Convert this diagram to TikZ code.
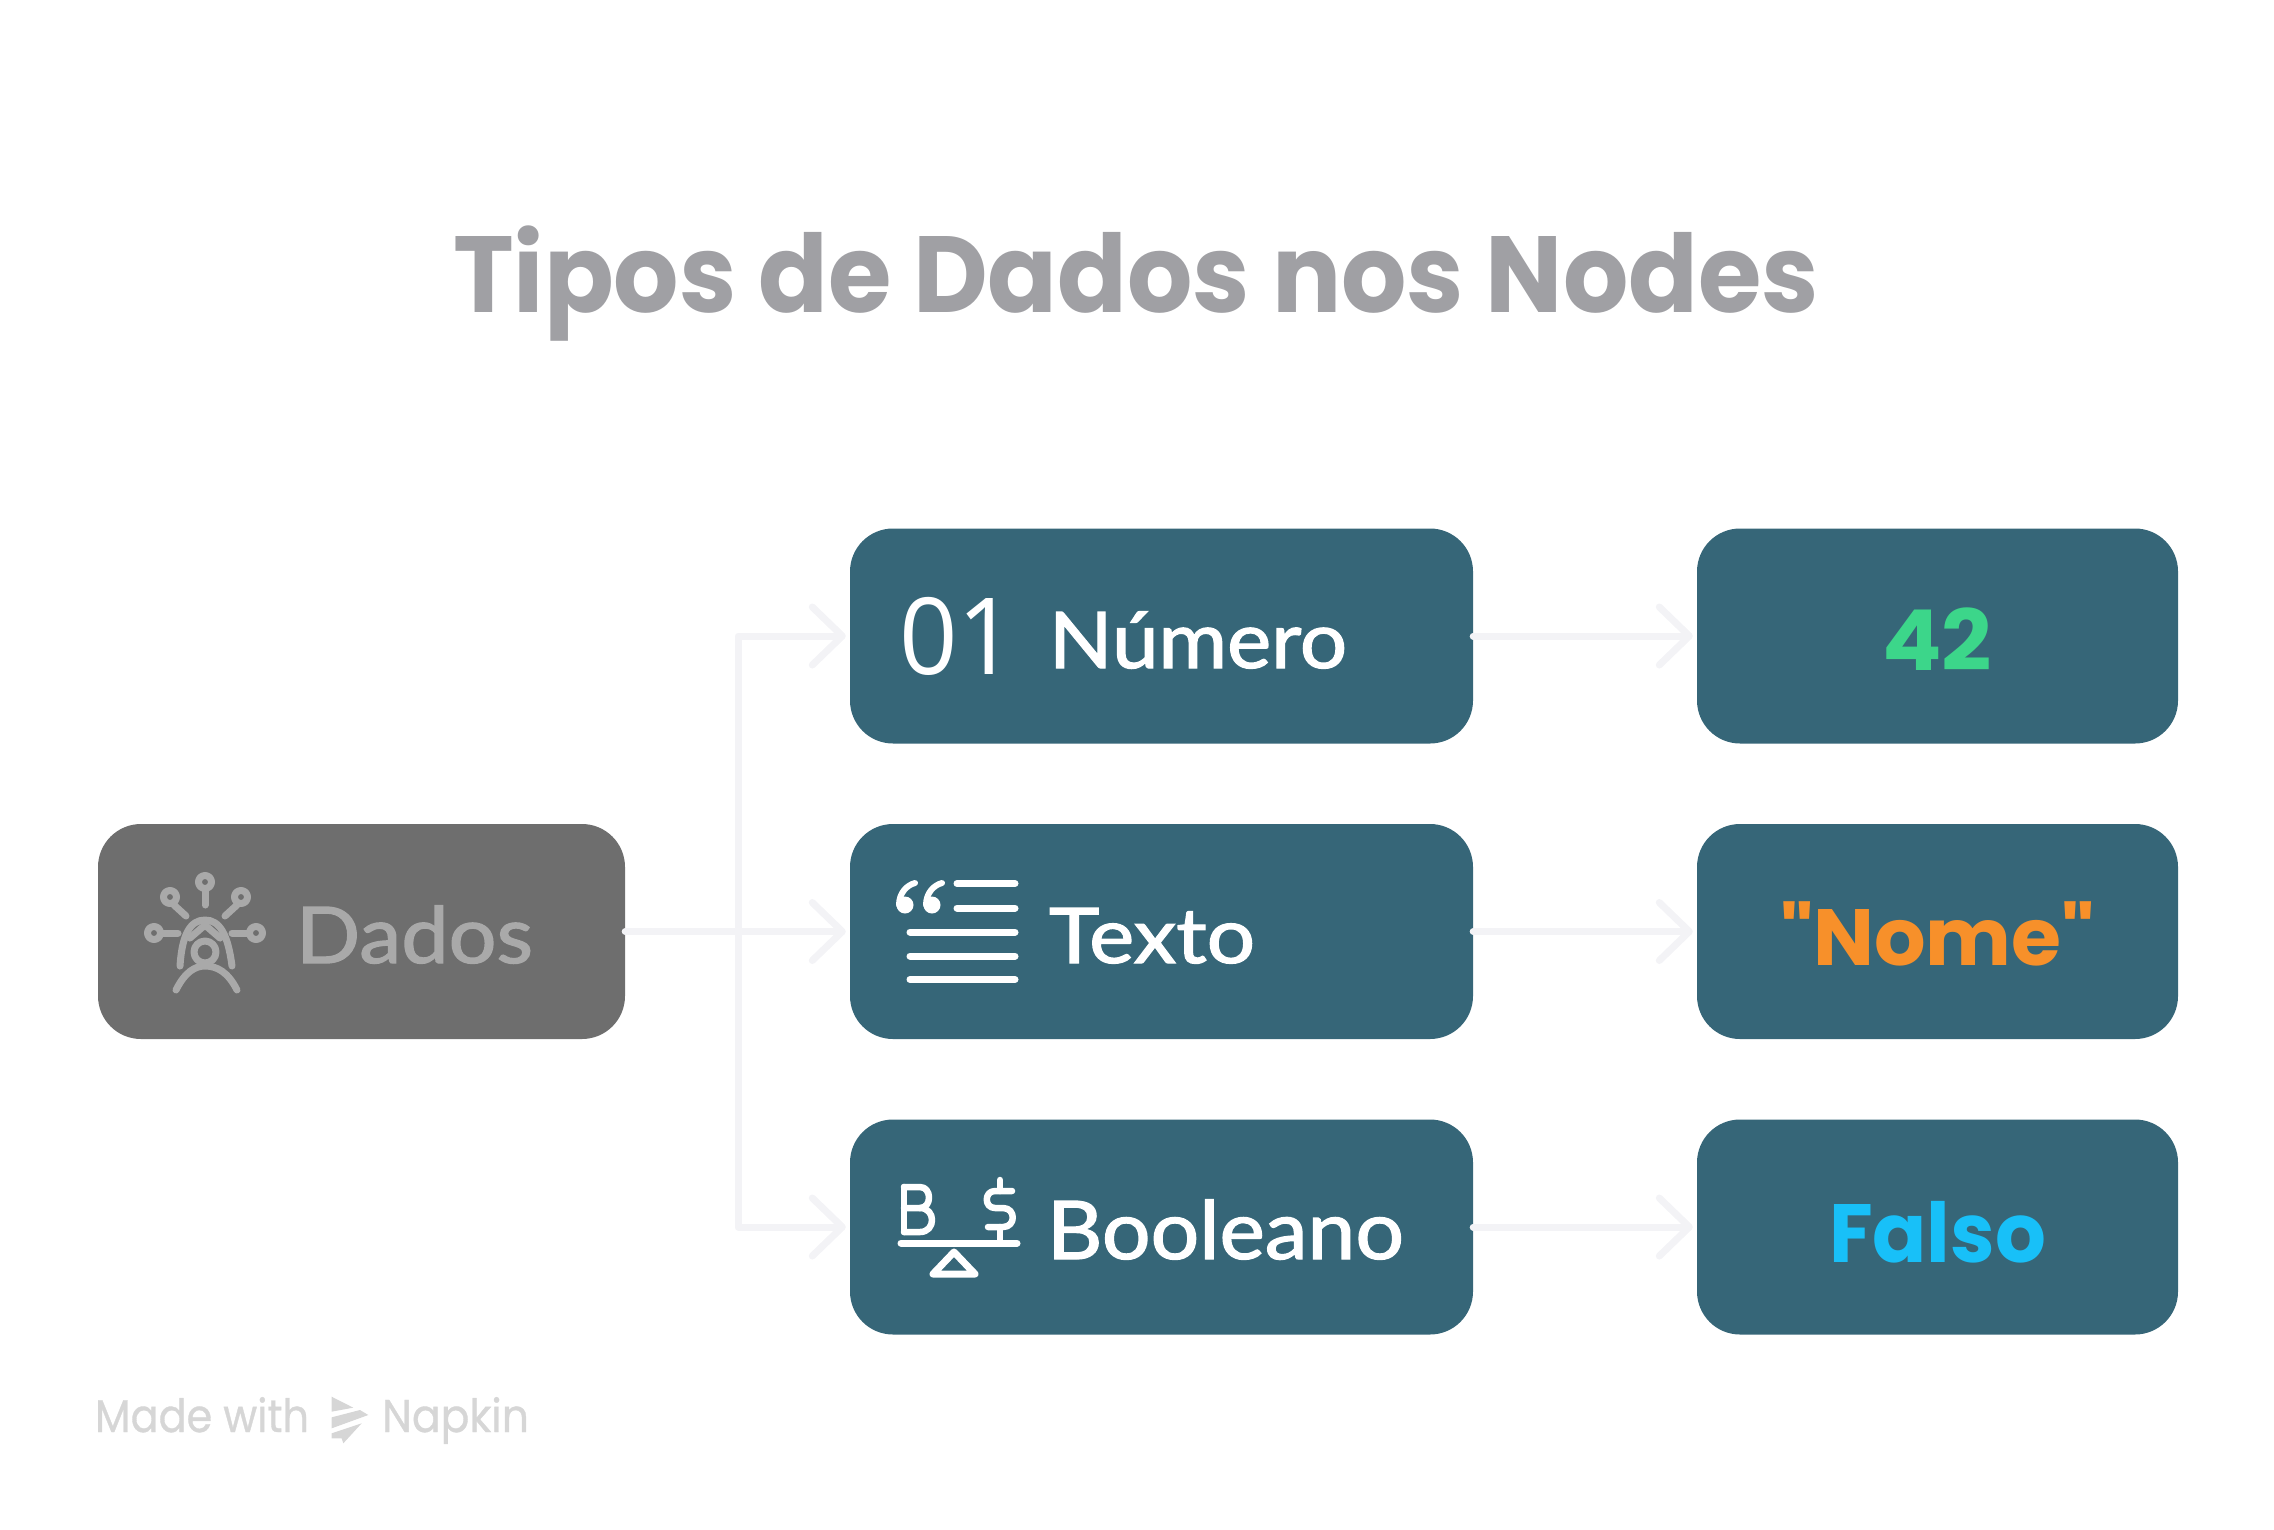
\documentclass[tikz,border=0pt]{standalone}
\usepackage{fontspec}
\usepackage{graphicx}
\usetikzlibrary{arrows.meta}
\setmainfont{Lato}
\newfontfamily\lblfont[FakeBold=1.6]{Lato}
\newfontfamily\thinfont{Open Sans}
\newfontfamily\fatfont{Poppins}
\newfontfamily\footfont[FakeBold=0.8]{Poppins}
\definecolor{boxteal}{HTML}{366678}
\definecolor{boxgrey}{HTML}{6E6E6E}
\definecolor{greytxt}{HTML}{A9A9A9}
\definecolor{titlegrey}{HTML}{A0A0A4}
\definecolor{linkpale}{HTML}{F3F3F6}
\definecolor{footgrey}{HTML}{D6D6D6}
\definecolor{valgreen}{HTML}{3CD68A}
\definecolor{valorange}{HTML}{F7902A}
\definecolor{valblue}{HTML}{18C0F8}
\newlength\fitw
\newlength\fith
% width, cap height, font, text
\newcommand\fittext[4]{%
  \settowidth\fitw{#3\fontsize{100}{100}\selectfont #4}%
  \settoheight\fith{#3\fontsize{100}{100}\selectfont H}%
  \pgfmathsetmacro\fitsx{#1/\fitw}%
  \pgfmathsetmacro\fitsy{#2/\fith}%
  \scalebox{\fitsx}[\fitsy]{#3\fontsize{100}{100}\selectfont #4}}
\tikzset{
  x=1pt,y=-1pt,
  midbox/.style={fill=boxteal,rounded corners=43pt,minimum width=623pt,minimum height=215pt,inner sep=0pt},
  valbox/.style={fill=boxteal,rounded corners=43pt,minimum width=481pt,minimum height=215pt,inner sep=0pt},
  srcbox/.style={fill=boxgrey,rounded corners=43pt,minimum width=527pt,minimum height=215pt,inner sep=0pt},
  lab/.style={anchor=base west,inner sep=0pt,outer sep=0pt},
  link/.style={draw=linkpale,line width=7pt,line cap=round,line join=round},
  linktip/.style={link,-{Straight Barb[length=30pt,width=58pt,line width=7pt,round]},shorten >=4pt},
  iconw/.style={draw=white,line width=7pt,line cap=round,line join=round},
  icong/.style={draw=greytxt,line width=7pt,line cap=round,line join=round},
}
\begin{document}
\begin{tikzpicture}
\useasboundingbox (0,0) rectangle (2274,1529);
% boxes
\node[srcbox] (dados) at (361.5,931.5) {};
\node[midbox] (num) at (1161.5,636) {};
\node[midbox] (txt) at (1161.5,931.5) {};
\node[midbox] (bool) at (1161.5,1227) {};
\node[valbox] (v42) at (1937.5,636) {};
\node[valbox] (vnome) at (1937.5,931.5) {};
\node[valbox] (vfalso) at (1937.5,1227) {};
\coordinate (bus) at (738,931.5);
% connectors
\draw[linktip] (dados.east) -- (txt.west);
\draw[linktip] (bus) |- (num.west);
\draw[linktip] (bus) |- (bool.west);
\draw[linktip] (num.east) -- (v42.west);
\draw[linktip] (txt.east) -- (vnome.west);
\draw[linktip] (bool.east) -- (vfalso.west);
% title
\node[lab,text=titlegrey] (title) at (453,312) {\fittext{1366}{76}{\fatfont\bfseries}{Tipos de Dados nos Nodes}};
% labels
\node[lab,text=greytxt] (ldados) at (296,963) {\fittext{237}{56}{\lblfont}{Dados}};
\node[lab,text=white] (l01) at (899,674) {\fittext{117}{76}{\thinfont}{01}};
\node[lab,text=white] (lnum) at (1049,668) {\fittext{298}{56}{\lblfont}{Número}};
\node[lab,text=white] (ltxt) at (1049,963) {\fittext{206}{55}{\lblfont}{Texto}};
\node[lab,text=white] (lbool) at (1047,1259) {\fittext{357}{58}{\lblfont}{Booleano}};
\node[lab,text=valgreen] (t42) at (1882,670) {\fittext{110}{59}{\fatfont\bfseries}{42}};
\node[lab,text=valorange] (tnome) at (1780,965) {\fittext{315}{56}{\fatfont\bfseries}{"Nome"}};
\node[lab,text=valblue] (tfalso) at (1829,1262) {\fittext{217}{58}{\fatfont\bfseries}{Falso}};
\node[lab,text=footgrey] (fmade) at (95,1432) {\fittext{214}{32}{\footfont}{Made with}};
\node[lab,text=footgrey] (fnap) at (382,1432) {\fittext{147}{32}{\footfont}{Napkin}};
% Napkin logo
\begin{scope}[shift={(60,1360)},x=.3333pt,y=-.3333pt]
\fill[footgrey] (815,110) -- (880,143) -- (815,155) -- cycle;
\fill[footgrey] (815,172) -- (900,150) -- (925,165) -- (815,205) -- cycle;
\fill[footgrey] (815,220) -- (905,190) -- (850,250) -- (845,235) -- (815,235) -- cycle;
\end{scope}
% Dados icon
\draw[icong] (205,882) circle (6.5);
\draw[icong] (205,890) -- (205,905);
\draw[icong] (170,897) circle (6.5);
\draw[icong] (174,905) -- (186,916);
\draw[icong] (241,897) circle (6.5);
\draw[icong] (237,905) -- (225,916);
\draw[icong] (154,933) circle (6.5);
\draw[icong] (162,933) -- (178,933);
\draw[icong] (256,933) circle (6.5);
\draw[icong] (248,933) -- (232,933);
\draw[icong] (180,966) .. controls (182,935) and (190,920) .. (205,920) .. controls (220,920) and (228,935) .. (232,966);
\draw[icong] (190,938) -- (205,925) -- (220,938);
\draw[icong] (205,952) circle (11);
\draw[icong] (176,990) .. controls (185,972) and (195,966) .. (205,966) .. controls (217,966) and (228,972) .. (237,990);
% Texto icon
\fill[white] (905,905) circle (8.5);
\draw[iconw,line width=6pt] (899,905) .. controls (899,893) and (907,885) .. (915,883);
\fill[white] (932,905) circle (8.5);
\draw[iconw,line width=6pt] (926,905) .. controls (926,893) and (934,885) .. (942,883);
\draw[iconw] (957,883.5) -- (1015,883.5);
\draw[iconw] (957,908) -- (1015,908);
\draw[iconw] (910,932) -- (1015,932);
\draw[iconw] (910,956) -- (1015,956);
\draw[iconw] (910,979.5) -- (1015,979.5);
% Booleano icon
\draw[iconw] (901,1243) -- (1017,1243);
\draw[iconw] (954,1252) -- (975,1274) -- (933,1274) -- cycle;
\draw[iconw,line width=6.5pt] (904,1187) -- (904,1232);
\draw[iconw,line width=6.5pt] (904,1187) -- (920,1187) .. controls (932,1187) and (932,1208) .. (920,1208) -- (904,1208);
\draw[iconw,line width=6.5pt] (920,1208) .. controls (936,1208) and (936,1232) .. (920,1232) -- (904,1232);
\draw[iconw,line width=6.5pt] (1012,1191) -- (995,1191) .. controls (984,1191) and (984,1208) .. (995,1208) -- (1003,1208) .. controls (1016,1208) and (1016,1227) .. (1003,1227) -- (988,1227);
\draw[iconw,line width=6.5pt] (1000,1180) -- (1000,1191);
\draw[iconw,line width=6.5pt] (1000,1227) -- (1000,1240);
\end{tikzpicture}
\end{document}
